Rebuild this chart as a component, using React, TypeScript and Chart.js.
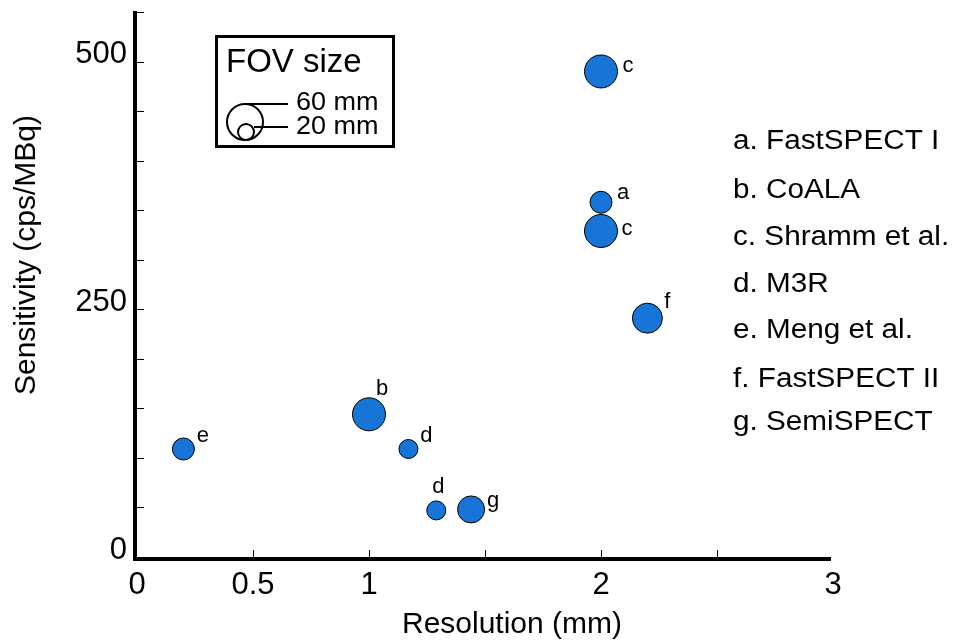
import React, { useEffect, useRef } from "react";
import { Chart, registerables } from "chart.js";

Chart.register(...registerables);

// ---- data ----
const pointCodes = ["c", "a", "c", "f", "b", "e", "d", "d", "g"];
const resolutionMm = [2.0, 2.0, 2.0, 2.2, 1.0, 0.2, 1.17, 1.29, 1.44];
const sensitivityCps = [490, 358, 329, 241, 144, 109, 109, 47, 48];
const fovSizeMm = [54, 32, 54, 48, 54, 32, 26, 26, 42];
const systemLegend = [
  "a. FastSPECT I",
  "b. CoALA",
  "c. Shramm et al.",
  "d. M3R",
  "e. Meng et al.",
  "f. FastSPECT II",
  "g. SemiSPECT",
];
const xLabeledTicks = [0, 0.5, 1, 2, 3];
const yLabeledTicks = [0, 250, 500];
const fovLegendSizes = [60, 20];

// ---- layout (pixels) ----
const labelOffsets = [
  [27, -6], [22, -9], [26, -2], [20, -16], [13, -25], [19.5, -13], [18, -13], [2, -23], [22, -8],
];
const legendBaselines = [149, 198, 245, 292, 338, 387, 430];

const FONT = "'Liberation Sans', Arial, sans-serif";
const BLUE = "#1675d6";
const radiusFor = (mm: number) => 0.25 * mm + 3;

function stretchedText(
  ctx: CanvasRenderingContext2D,
  text: string,
  x: number,
  y: number,
  size: number,
  sx: number,
  align: CanvasTextAlign = "left",
  baseline: CanvasTextBaseline = "alphabetic"
) {
  ctx.save();
  ctx.font = `${size}px ${FONT}`;
  ctx.textAlign = align;
  ctx.textBaseline = baseline;
  ctx.translate(x, y);
  ctx.scale(sx, 1);
  ctx.fillText(text, 0, 0);
  ctx.restore();
}

const decorPlugin = {
  id: "decor",
  afterDatasetsDraw(chart: any) {
    const ctx: CanvasRenderingContext2D = chart.ctx;
    const xs = chart.scales.x;
    const ys = chart.scales.y;
    const area = chart.chartArea;
    ctx.save();
    ctx.fillStyle = "#000";
    ctx.strokeStyle = "#000";

    // axes
    ctx.lineWidth = 4;
    ctx.beginPath();
    ctx.moveTo(area.left - 2, area.top - 1);
    ctx.lineTo(area.left - 2, area.bottom + 2);
    ctx.lineTo(area.right - 2, area.bottom + 2);
    ctx.stroke();

    // inward ticks
    ctx.lineWidth = 1;
    ctx.beginPath();
    for (let v = 0; v <= 550; v += 50) {
      const py = Math.round(ys.getPixelForValue(v)) + 0.5;
      ctx.moveTo(area.left, py);
      ctx.lineTo(area.left + 7, py);
    }
    for (let v = 0.5; v <= 2.75; v += 0.5) {
      const px = Math.round(xs.getPixelForValue(v)) + 0.5;
      ctx.moveTo(px, area.bottom);
      ctx.lineTo(px, area.bottom - 7);
    }
    ctx.stroke();

    // point labels
    ctx.font = `22px ${FONT}`;
    ctx.textAlign = "center";
    ctx.textBaseline = "middle";
    pointCodes.forEach((code, i) => {
      const px = xs.getPixelForValue(resolutionMm[i]);
      const py = ys.getPixelForValue(sensitivityCps[i]);
      ctx.fillText(code, px + labelOffsets[i][0], py + labelOffsets[i][1]);
    });

    // axis titles
    stretchedText(ctx, "Resolution (mm)", 512, 625, 30, 1.0, "center", "middle");
    ctx.save();
    ctx.translate(27, 255);
    ctx.rotate(-Math.PI / 2);
    stretchedText(ctx, "Sensitivity (cps/MBq)", 0, 0, 30, 1.0, "center", "middle");
    ctx.restore();

    // FOV size legend box
    ctx.lineWidth = 3;
    ctx.strokeRect(216.5, 36.5, 177, 110);
    stretchedText(ctx, "FOV size", 226, 72, 33, 1.0, "left", "alphabetic");
    const bigR = radiusFor(fovLegendSizes[0]);
    const smallR = radiusFor(fovLegendSizes[1]);
    const baseY = 140;
    const bigC = { x: 245, y: baseY - bigR };
    const smallC = { x: 246, y: baseY - smallR };
    ctx.lineWidth = 2;
    ctx.beginPath();
    ctx.arc(bigC.x, bigC.y, bigR, 0, Math.PI * 2);
    ctx.stroke();
    ctx.beginPath();
    ctx.arc(smallC.x, smallC.y, smallR, 0, Math.PI * 2);
    ctx.stroke();
    ctx.beginPath();
    ctx.moveTo(bigC.x, baseY - 2 * bigR);
    ctx.lineTo(288, baseY - 2 * bigR);
    ctx.moveTo(smallC.x + smallR, 127);
    ctx.lineTo(288, 127);
    ctx.stroke();
    stretchedText(ctx, `${fovLegendSizes[0]} mm`, 296, 103, 26, 1.04, "left", "middle");
    stretchedText(ctx, `${fovLegendSizes[1]} mm`, 296, 127, 26, 1.04, "left", "middle");

    // system legend
    systemLegend.forEach((t, i) => {
      stretchedText(ctx, t, 733, legendBaselines[i], 27, 1.1, "left", "alphabetic");
    });
    ctx.restore();
  },
};

export default function App() {
  const canvasRef = useRef<HTMLCanvasElement | null>(null);

  useEffect(() => {
    document.body.style.margin = "0";
    const canvas = canvasRef.current;
    if (!canvas) return;
    const chart = new Chart(canvas, {
      type: "scatter",
      data: {
        datasets: [
          {
            data: resolutionMm.map((x, i) => ({ x, y: sensitivityCps[i] })),
            backgroundColor: BLUE,
            borderColor: "#000",
            borderWidth: 1,
            pointRadius: fovSizeMm.map(radiusFor),
            pointHoverRadius: fovSizeMm.map(radiusFor),
          },
        ],
      },
      options: {
        animation: false,
        responsive: false,
        devicePixelRatio: 1,
        events: [],
        layout: { padding: { top: 12, right: 125, left: 0, bottom: 0 } },
        plugins: { legend: { display: false }, tooltip: { enabled: false } },
        scales: {
          x: {
            type: "linear",
            min: 0,
            max: 3,
            grid: { display: false },
            border: { display: false },
            ticks: {
              stepSize: 0.5,
              autoSkip: false,
              maxRotation: 0,
              padding: 2,
              color: "#000",
              font: { family: FONT, size: 31 },
              callback: (v: any) => (xLabeledTicks.includes(Number(v)) ? String(v) : ""),
            },
            afterFit: (s: any) => {
              s.height = 86;
              s.paddingLeft = 0;
              s.paddingRight = 0;
            },
          },
          y: {
            type: "linear",
            min: 0,
            max: 550,
            grid: { display: false },
            border: { display: false },
            ticks: {
              stepSize: 50,
              autoSkip: false,
              padding: 2,
              labelOffset: -7,
              color: "#000",
              font: { family: FONT, size: 31 },
              callback: (v: any) => (yLabeledTicks.includes(Number(v)) ? String(v) : ""),
            },
            afterFit: (s: any) => {
              s.width = 137;
              s.paddingTop = 0;
              s.paddingBottom = 0;
            },
          },
        },
      },
      plugins: [
        decorPlugin,
        {
          id: "fixArea",
          afterLayout(chart: any) {
            // pin the plot area to the reference frame
            const a = chart.chartArea;
            const ys = chart.scales.y;
            if (a.top !== 12) {
              a.top = 12;
              a.height = a.bottom - a.top;
              ys.top = 12;
              ys.height = ys.bottom - ys.top;
              ys.configure();
            }
          },
        },
      ],
    });
    return () => chart.destroy();
  }, []);

  return (
    <div style={{ position: "absolute", left: 0, top: 0, width: 958, height: 643, background: "#fff" }}>
      <canvas ref={canvasRef} width={958} height={643} style={{ width: 958, height: 643 }} />
    </div>
  );
}
